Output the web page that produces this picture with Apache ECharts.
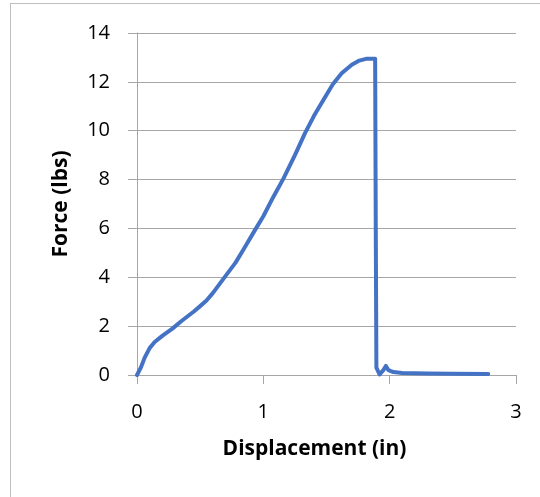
<!DOCTYPE html>
<html>
<head>
<meta charset="utf-8">
<script src="https://cdn.jsdelivr.net/npm/echarts@6/dist/echarts.min.js"></script>
<style>
html,body{margin:0;padding:0;background:#fff;}
#frame{position:absolute;left:10px;top:3px;width:600px;height:600px;border:1px solid #bfbfbf;box-sizing:border-box;}
#chart{position:absolute;left:0;top:0;width:540px;height:497px;}
</style>
</head>
<body>
<div id="frame"></div>
<div id="chart"></div>
<script>
// Displacement (in)
const displacement = [0,0.03,0.06,0.1,0.14,0.2,0.28,0.35,0.45,0.5,0.55,0.6,0.65,0.7,0.78,0.85,0.93,1.0,1.08,1.16,1.25,1.33,1.4,1.48,1.55,1.62,1.7,1.76,1.82,1.885,1.89,1.895,1.92,1.95,1.97,1.99,2.03,2.1,2.3,2.5,2.78];
// Force (lbs)
const force = [0,0.3,0.7,1.1,1.35,1.6,1.9,2.2,2.6,2.82,3.05,3.35,3.7,4.05,4.6,5.2,5.9,6.5,7.3,8.05,9.0,9.9,10.6,11.3,11.9,12.35,12.7,12.87,12.95,12.95,6,0.3,0.02,0.2,0.37,0.2,0.12,0.08,0.06,0.05,0.04];
const xTicks = [0,1,2,3];
const yTicks = [0,2,4,6,8,10,12,14];

const chart = echarts.init(document.getElementById('chart'));
const font = "'Open Sans', sans-serif";
chart.setOption({
  animation:false,
  backgroundColor:'transparent',
  grid:{left:137,right:24,top:33,bottom:122},
  xAxis:{
    type:'value',min:xTicks[0],max:xTicks[xTicks.length-1],interval:1,
    name:'Displacement (in)',nameLocation:'middle',nameGap:64,
    nameTextStyle:{fontFamily:font,fontSize:21,fontWeight:'bold',color:'#000',padding:[0,24,0,0]},
    axisLine:{show:true,lineStyle:{color:'#a6a6a6',width:1}},
    axisTick:{show:true,inside:false,length:9,lineStyle:{color:'#a6a6a6'}},
    axisLabel:{fontFamily:font,fontSize:20,color:'#000',margin:27},
    splitLine:{show:false}
  },
  yAxis:{
    type:'value',min:yTicks[0],max:yTicks[yTicks.length-1],interval:2,
    name:'Force (lbs)',nameLocation:'middle',nameGap:65,
    nameTextStyle:{fontFamily:font,fontSize:21,fontWeight:'bold',color:'#000'},
    axisLine:{show:true,lineStyle:{color:'#a6a6a6',width:1}},
    axisTick:{show:true,inside:false,length:9,lineStyle:{color:'#a6a6a6'}},
    axisLabel:{fontFamily:font,fontSize:20,color:'#000',margin:27},
    splitLine:{show:true,lineStyle:{color:'#a6a6a6',width:1}}
  },
  series:[{
    type:'line',
    data:displacement.map((d,i)=>[d,force[i]]),
    showSymbol:false,
    smooth:false,
    lineStyle:{color:'#4472C4',width:4,join:'round',cap:'round'}
  }]
});
</script>
</body>
</html>
